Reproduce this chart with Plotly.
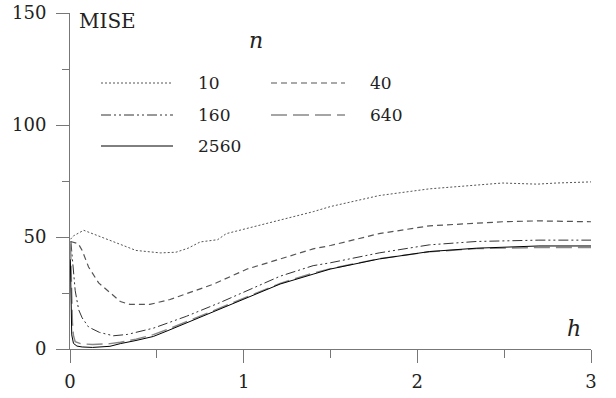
import plotly.graph_objects as go

# ---- data ----
h10 = [0.003, 0.02, 0.079, 0.15, 0.23, 0.38, 0.52, 0.61, 0.68, 0.75, 0.85, 0.9, 1.02, 1.21, 1.40, 1.50, 1.78, 2.07, 2.30, 2.49, 2.69, 2.80, 3.0]
m10 = [49, 50.5, 53, 51, 48.5, 44, 42.9, 43.2, 45, 47.8, 48.8, 51.5, 53.8, 57.5, 61.3, 63.6, 68.5, 71.5, 73, 74.1, 73.6, 74.1, 74.6]

h40 = [0.003, 0.048, 0.07, 0.107, 0.165, 0.21, 0.29, 0.345, 0.46, 0.576, 0.68, 0.825, 1.02, 1.21, 1.40, 1.50, 1.78, 2.07, 2.34, 2.49, 2.69, 2.88, 3.0]
m40 = [48, 47, 44, 36.6, 29.5, 26.5, 21.2, 19.9, 19.9, 22.1, 25, 28.9, 35.7, 40.2, 44.7, 46.2, 51.5, 55, 56, 56.8, 57.2, 57.1, 56.8]

h160 = [0.005, 0.015, 0.03, 0.05, 0.07, 0.107, 0.17, 0.25, 0.29, 0.33, 0.48, 0.576, 0.67, 0.86, 1.02, 1.21, 1.40, 1.50, 1.78, 2.07, 2.34, 2.5, 2.7, 3.0]
m160 = [48, 40, 26, 17.5, 13.9, 9.8, 7.4, 5.9, 6.1, 6.5, 9.3, 11.8, 14.6, 20.6, 26.2, 32.5, 37.2, 38.5, 42.9, 46.5, 48, 48.2, 48.6, 48.6]

h640 = [0.003, 0.008, 0.014, 0.02, 0.03, 0.06, 0.13, 0.23, 0.29, 0.38, 0.48, 0.57, 0.67, 0.86, 1.02, 1.21, 1.40, 1.50, 1.78, 2.07, 2.34, 2.5, 2.7, 3.0]
m640 = [47, 30, 12, 6, 3.3, 2.4, 2.0, 2.4, 3.0, 4.4, 6.4, 9.0, 12.2, 18.0, 23.3, 29.3, 33.9, 35.9, 40.3, 43.4, 44.8, 45.1, 45.3, 45.3]

h2560 = [0.002, 0.005, 0.01, 0.02, 0.04, 0.07, 0.13, 0.23, 0.29, 0.38, 0.48, 0.57, 0.67, 0.86, 1.02, 1.21, 1.40, 1.50, 1.78, 2.07, 2.34, 2.5, 2.7, 3.0]
m2560 = [40, 16, 6.3, 2.5, 1.3, 0.9, 0.7, 1.2, 2.4, 3.8, 5.6, 8.4, 11.6, 17.6, 22.9, 29.0, 33.4, 35.7, 40.2, 43.5, 45, 45.5, 46, 46]

labels = ["10", "40", "160", "640", "2560"]
x_ticks = [0, 1, 2, 3]
y_ticks = [0, 50, 100, 150]

series = [(h10, m10), (h40, m40), (h160, m160), (h640, m640), (h2560, m2560)]
styles = [
    dict(color="#555555", dash="2px,2px", width=1),
    dict(color="#555555", dash="6px,4px", width=1.2),
    dict(color="#333333", dash="10px,3px,2px,3px,2px,3px", width=1),
    dict(color="#888888", dash="16px,6px", width=1.4),
    dict(color="#000000", dash="solid", width=1),
]

fig = go.Figure()
for (hx, my), lab, st in zip(series, labels, styles):
    fig.add_trace(go.Scatter(x=hx, y=my, mode="lines", name=lab, line=st, showlegend=False))

W, H = 616, 398
ml, mr, mt, mb = 70, 25, 13, 49
pw, ph = W - ml - mr, H - mt - mb

def px(x):
    return (x - ml) / pw

def py(y):
    return (H - mb - y) / ph

font = "DejaVu Serif"
tc = "#222222"

# legend (manual)
leg_pos = [(101, 173, 196, 83), (271, 345, 368, 83), (101, 173, 196, 115), (271, 345, 368, 115), (101, 173, 196, 146)]
for (x0, x1, xt, yy), lab, st in zip(leg_pos, labels, styles):
    fig.add_shape(type="line", xref="paper", yref="paper", x0=px(x0), x1=px(x1), y0=py(yy), y1=py(yy),
                  line=dict(color=st["color"], dash=st["dash"], width=st["width"]))
    fig.add_annotation(xref="paper", yref="paper", x=px(xt), y=py(yy), text=lab, showarrow=False,
                       xanchor="left", yanchor="middle", font=dict(family=font, size=17, color=tc))

fig.add_annotation(xref="paper", yref="paper", x=px(77), y=py(21), text="MISE", showarrow=False,
                   xanchor="left", yanchor="middle", font=dict(family=font, size=20, color=tc))
fig.add_annotation(xref="paper", yref="paper", x=px(256), y=py(40), text="<i>n</i>", showarrow=False,
                   xanchor="center", yanchor="middle", font=dict(family=font, size=22, color=tc))
fig.add_annotation(xref="paper", yref="paper", x=px(574), y=py(328), text="<i>h</i>", showarrow=False,
                   xanchor="center", yanchor="middle", font=dict(family=font, size=22, color=tc))

axis_common = dict(showgrid=False, zeroline=False, showline=True, linecolor="#777777", linewidth=1,
                   ticks="outside", ticklen=13, tickcolor="#777777", tickwidth=1, automargin=False,
                   tickfont=dict(family=font, size=18, color=tc), fixedrange=True)

fig.update_xaxes(range=[0, 3], tickvals=x_ticks, ticktext=[str(v) for v in x_ticks],
                 minor=dict(dtick=0.5, tick0=0, ticklen=8, ticks="outside", tickcolor="#777777"),
                 ticklabelstandoff=3, **axis_common)
fig.update_yaxes(range=[0, 150], tickvals=y_ticks, ticktext=[str(v) for v in y_ticks],
                 minor=dict(dtick=25, tick0=0, ticklen=7, ticks="outside", tickcolor="#777777"),
                 ticklabelstandoff=6, **axis_common)

fig.update_layout(width=W, height=H, margin=dict(l=ml, r=mr, t=mt, b=mb, pad=0),
                  paper_bgcolor="white", plot_bgcolor="white", showlegend=False)

fig.write_html("out.html", config={"displayModeBar": False},
               post_script="document.body.style.margin='0';")
